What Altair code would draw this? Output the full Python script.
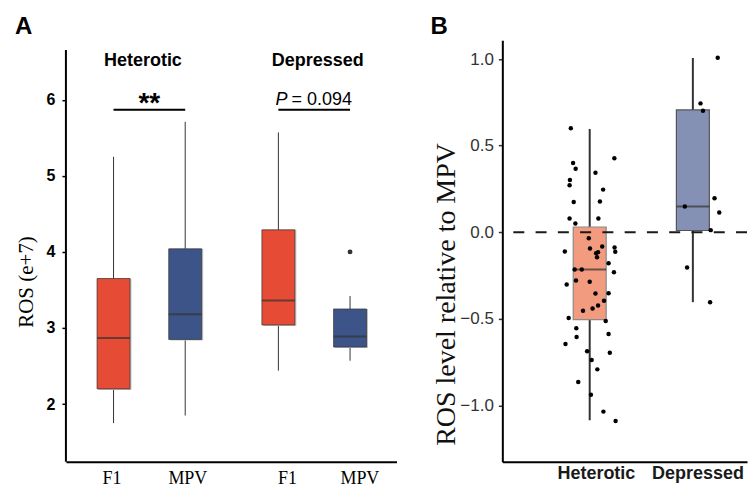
import altair as alt
import pandas as pd

# ---------------- Panel A data (ROS, e+7) ----------------
a_group = ["Heterotic", "Heterotic", "Depressed", "Depressed"]
a_type = ["F1", "MPV", "F1", "MPV"]
a_slot = [1.0, 2.0, 3.3, 4.3]
a_low = [1.75, 1.85, 2.44, 2.57]
a_q1 = [2.20, 2.85, 3.04, 2.75]
a_med = [2.87, 3.18, 3.36, 2.89]
a_q3 = [3.65, 4.04, 4.29, 3.25]
a_high = [5.25, 5.71, 5.57, 3.42]
a_out_slot = [4.3]
a_out_val = [4.0]
a_tick_slots = [0.97, 2.03, 3.42, 4.43]
a_tick_labels = ["F1", "MPV", "F1", "MPV"]
a_y_ticks = [2, 3, 4, 5, 6]

a_head_text = ["Heterotic", "Depressed"]
a_head_x = [1.41, 3.85]
a_head_y = [6.446, 6.446]
a_sig_x1 = [1.0, 3.3]
a_sig_x2 = [2.0, 4.3]
a_sig_y = [5.869, 5.869]

# ---------------- Panel B data (relative to MPV) ----------------
b_cat = ["Heterotic", "Depressed"]
b_slot = [1.0, 2.0]
b_low = [-1.086, -0.404]
b_q1 = [-0.505, 0.010]
b_med = [-0.215, 0.148]
b_q3 = [0.030, 0.706]
b_high = [0.596, 1.006]
b_tick_slots = [1.06, 2.045]
b_y_ticks = [-1.0, -0.5, 0.0, 0.5, 1.0]

het_vals = [0.600, 0.400, 0.366, 0.302, 0.271, 0.344, 0.246, 0.427, 0.175, 0.177,
            0.079, 0.050, 0.079, -0.035, -0.111, -0.094, -0.082, -0.088, -0.113, -0.121,
            -0.115, -0.144, -0.215, -0.215, -0.179, -0.231, -0.302, -0.279, -0.286, -0.354,
            -0.352, -0.396, -0.423, -0.440, -0.453, -0.496, -0.513, -0.555, -0.605, -0.588,
            -0.646, -0.688, -0.696, -0.738, -0.792, -0.865, -0.938, -1.036, -1.090]
het_jit = [-0.183, -0.161, -0.136, -0.192, -0.195, 0.056, 0.130, 0.239, -0.155, 0.099,
           -0.195, -0.139, 0.084, -0.009, -0.241, 0.003, 0.121, 0.241, 0.248, 0.062,
           0.081, 0.071, -0.146, -0.077, 0.183, 0.235, -0.223, -0.133, 0.000, 0.056,
           0.183, 0.139, 0.081, 0.028, -0.065, -0.204, 0.155, -0.130, -0.127, 0.183,
           -0.235, -0.025, 0.195, 0.019, 0.074, -0.111, 0.012, 0.133, 0.251]
dep_vals = [1.007, 0.744, 0.702, 0.148, 0.196, 0.114, 0.012, -0.204, -0.404]
dep_jit = [0.241, 0.074, 0.098, -0.078, 0.210, 0.256, 0.173, -0.056, 0.167]

RED, BLUE = "#E64B35", "#3C5488"
SALMON, LAV = "#F39B7F", "#8491B4"


def label_expr(slots, labels):
    expr = "'" + labels[-1] + "'"
    for i in range(len(slots) - 2, -1, -1):
        mid = (slots[i] + slots[i + 1]) / 2
        expr = f"datum.value < {mid:.3f} ? '{labels[i]}' : ({expr})"
    return expr


H = 422

# ---------------- Panel A ----------------
a_df = pd.DataFrame({"group": a_group, "type": a_type, "slot": a_slot, "low": a_low,
                     "q1": a_q1, "med": a_med, "q3": a_q3, "high": a_high})
a_out = pd.DataFrame({"slot": a_out_slot, "val": a_out_val})
a_head = pd.DataFrame({"text": a_head_text, "x": a_head_x, "y": a_head_y})
a_sig = pd.DataFrame({"x1": a_sig_x1, "x2": a_sig_x2, "y": a_sig_y})

ax_xs = alt.Scale(domain=[0.4054, 4.878], nice=False, zero=False)
ax_ys = alt.Scale(domain=[1.243, 6.781], nice=False, zero=False)
ax_xaxis = alt.Axis(values=a_tick_slots, labelExpr=label_expr(a_tick_slots, a_tick_labels),
                    ticks=False, grid=False, domainColor="black", domainWidth=2,
                    labelFont="Liberation Serif", labelFontSize=18, labelColor="black",
                    labelPadding=8, title=None)
ax_yaxis = alt.Axis(values=a_y_ticks, format="d", domain=False, grid=False, tickColor="black",
                    tickWidth=1.5, tickSize=4, labelFont="Liberation Sans",
                    labelFontWeight="bold", labelFontSize=16, labelColor="black",
                    labelPadding=7, title="ROS (e+7)", titleFont="Liberation Serif",
                    titleFontSize=21, titleFontWeight="normal", titleColor="black",
                    titleX=-33.7, titleY=241.5, titleBaseline="alphabetic")


def AX(f):
    return alt.X(f, type="quantitative", scale=ax_xs, axis=ax_xaxis)


def AY(f):
    return alt.Y(f, type="quantitative", scale=ax_ys, axis=ax_yaxis)


a_base = alt.Chart(a_df)
a_whisk = a_base.mark_rule(color="#333333", strokeWidth=1).encode(x=AX("slot"), y=AY("low"), y2="high")
a_shadow = a_base.mark_bar(size=33, color="#c4c4c4", xOffset=1.5, yOffset=1).encode(
    x=AX("slot"), y=AY("q1"), y2="q3")
a_box = a_base.mark_bar(size=33, stroke="#333333", strokeWidth=1, strokeOpacity=0.7).encode(
    x=AX("slot"), y=AY("q1"), y2="q3",
    color=alt.Color("type:N", scale=alt.Scale(domain=["F1", "MPV"], range=[RED, BLUE]), legend=None))
a_median = a_base.mark_tick(orient="horizontal", size=33, thickness=2, color="#333333").encode(
    x=AX("slot"), y=AY("med"))
a_outlier = alt.Chart(a_out).mark_circle(size=24, color="#333333", opacity=1).encode(
    x=AX("slot"), y=AY("val"))
a_yline = alt.Chart(pd.DataFrame({"d": [0]})).mark_rule(color="black", strokeWidth=2).encode(
    x=alt.value(0), y=alt.datum(6.652, scale=ax_ys), y2=alt.datum(1.243))
a_heads = alt.Chart(a_head).mark_text(font="Liberation Sans", fontWeight="bold", fontSize=18,
                                      color="black", baseline="alphabetic", align="center").encode(
    x=AX("x"), y=AY("y"), text="text:N")
a_siglines = alt.Chart(a_sig).mark_rule(color="black", strokeWidth=2).encode(
    x=AX("x1"), x2="x2", y=AY("y"))
a_stars = alt.Chart(pd.DataFrame({"x": [1.5], "y": [5.84], "t": ["**"]})).mark_text(
    font="Liberation Sans", fontWeight="bold", fontSize=28, color="black",
    baseline="alphabetic", align="center").encode(x=AX("x"), y=AY("y"), text="t:N")
a_p = alt.Chart(pd.DataFrame({"x": [3.26], "y": [5.930], "t": ["P"]})).mark_text(
    font="Liberation Sans", fontStyle="italic", fontSize=18, color="black",
    baseline="alphabetic", align="left").encode(x=AX("x"), y=AY("y"), text="t:N")
a_pval = alt.Chart(pd.DataFrame({"x": [3.26], "y": [5.930], "t": ["= 0.094"]})).mark_text(
    font="Liberation Sans", fontSize=18, color="black", dx=16,
    baseline="alphabetic", align="left").encode(x=AX("x"), y=AY("y"), text="t:N")
a_letter = alt.Chart(pd.DataFrame({"t": ["A"]})).mark_text(
    font="Liberation Sans", fontWeight="bold", fontSize=24, color="black",
    baseline="alphabetic", align="left").encode(x=alt.value(-51), y=alt.value(-6.2), text="t:N")

panel_a = alt.layer(a_whisk, a_shadow, a_box, a_median, a_outlier, a_yline, a_heads,
                    a_siglines, a_stars, a_p, a_pval, a_letter).properties(width=331, height=H)

# ---------------- Panel B ----------------
b_df = pd.DataFrame({"cat": b_cat, "slot": b_slot, "low": b_low, "q1": b_q1,
                     "med": b_med, "q3": b_q3, "high": b_high})
pts = pd.DataFrame({
    "cat": ["Heterotic"] * len(het_vals) + ["Depressed"] * len(dep_vals),
    "val": het_vals + dep_vals,
    "jit": het_jit + dep_jit,
})
pts["slot"] = pts["cat"].map(dict(zip(b_cat, b_slot)))

BW = 245
bx_xs = alt.Scale(domain=[0.2015, 0.2015 + BW / 107.7], nice=False, zero=False)
bx_ys = alt.Scale(domain=[-1.3253, 1.1084], nice=False, zero=False)
bx_xaxis = alt.Axis(values=b_tick_slots, labelExpr=label_expr(b_tick_slots, b_cat),
                    ticks=False, grid=False, domainColor="black", domainWidth=2,
                    labelFont="Liberation Sans", labelFontWeight="bold", labelFontSize=18,
                    labelColor="#1a1a1a", labelPadding=3, title=None)
bx_yaxis = alt.Axis(values=b_y_ticks, format=".1f", grid=False, domainColor="black",
                    domainWidth=2, tickColor="#333333", tickWidth=1.5, tickSize=4,
                    labelFont="Liberation Sans", labelFontSize=17, labelColor="#333333",
                    labelPadding=5, title="ROS level relative to MPV",
                    titleFont="Liberation Serif", titleFontSize=28, titleFontWeight="normal",
                    titleColor="#111111", titleX=-48, titleY=254, titleBaseline="alphabetic")


def BX(f):
    return alt.X(f, type="quantitative", scale=bx_xs, axis=bx_xaxis)


def BY(f):
    return alt.Y(f, type="quantitative", scale=bx_ys, axis=bx_yaxis)


b_base = alt.Chart(b_df)
b_whisk = b_base.mark_rule(color="#333333", strokeWidth=2).encode(x=BX("slot"), y=BY("low"), y2="high")
b_box = b_base.mark_bar(size=33, strokeWidth=1.2).encode(
    x=BX("slot"), y=BY("q1"), y2="q3",
    color=alt.Color("cat:N", scale=alt.Scale(domain=b_cat, range=[SALMON, LAV]), legend=None),
    stroke=alt.Stroke("cat:N", scale=alt.Scale(domain=b_cat, range=["#8a8a8a", "#555555"]), legend=None))
b_median = b_base.mark_tick(orient="horizontal", size=33, thickness=2, color="#333333").encode(
    x=BX("slot"), y=BY("med"))
b_zero = alt.Chart(pd.DataFrame({"d": [0]})).mark_rule(
    color="#1a1a1a", strokeWidth=2, strokeDash=[11, 11.3]).encode(y=alt.datum(0, scale=bx_ys))
b_pts = alt.Chart(pts).transform_calculate(px="datum.slot + datum.jit").mark_circle(
    size=20, color="black", opacity=1).encode(x=BX("px"), y=BY("val"))
b_letter = alt.Chart(pd.DataFrame({"t": ["B"]})).mark_text(
    font="Liberation Sans", fontWeight="bold", fontSize=24, color="black",
    baseline="alphabetic", align="left").encode(x=alt.value(-72), y=alt.value(-6.2), text="t:N")

panel_b = alt.layer(b_whisk, b_box, b_median, b_zero, b_pts, b_letter).properties(width=BW, height=H)

chart = alt.hconcat(panel_a, panel_b, spacing=34).resolve_scale(
    color="independent", stroke="independent"
).properties(
    padding={"left": 7, "top": 6, "right": 0, "bottom": 0}
).configure_view(stroke=None)

chart.save("out.html", embed_options={"renderer": "svg", "actions": False})
